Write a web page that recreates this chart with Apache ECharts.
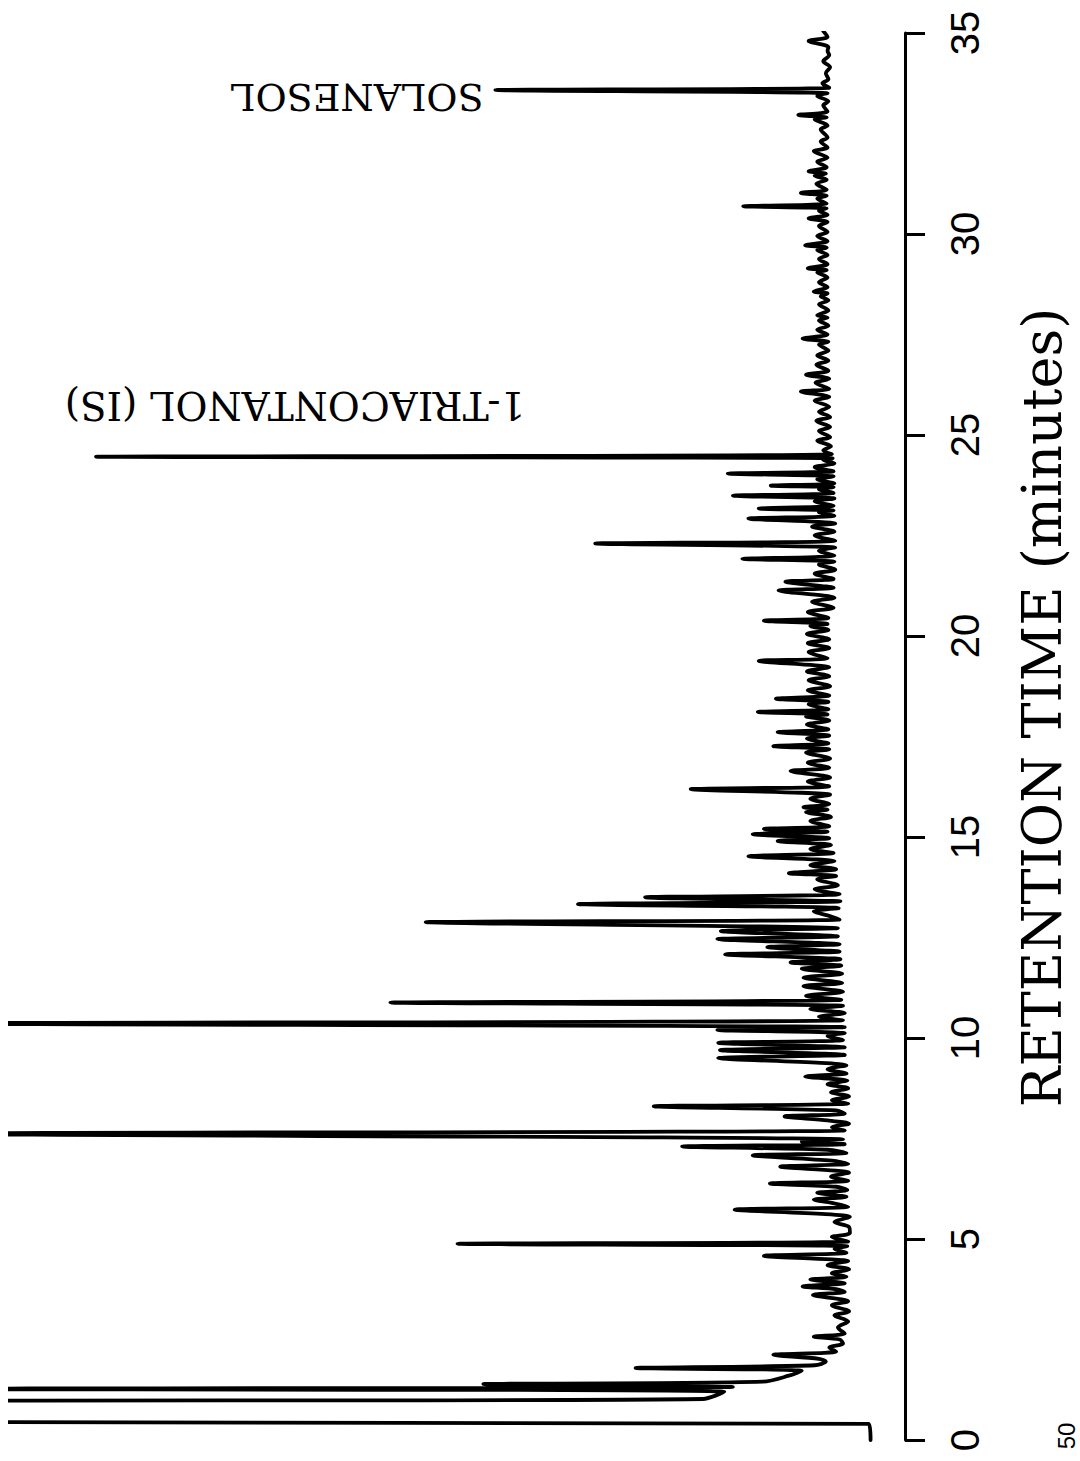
<!DOCTYPE html>
<html>
<head>
<meta charset="utf-8">
<script src="https://cdn.jsdelivr.net/npm/echarts@6/dist/echarts.min.js"></script>
<style>
  html, body { margin: 0; padding: 0; background: #fff; }
  #chart { width: 1080px; height: 1461px; }
</style>
</head>
<body>
<div id="chart"></div>
<script>
// Retention time (min) vs detector response (% of full scale)
const segSolventFront = [[0,0],[0.4,0.2],[0.45,110],[0.95,110],[1.02,19.5],[1.2,17],[1.27,110],[1.32,16],[1.39,45],[1.45,12.5],[1.6,9.5],[1.72,8],[1.79,27.3],[1.86,6.5],[1.95,5.2],[2.02,6],[2.12,11.3],[2.2,4],[2.3,4.8],[2.4,3.2],[2.5,3.6],[2.57,6.6],[2.65,3],[2.8,3.8],[2.95,2.6]];
const segEarly = [[3.1,4.2],[3.2,2.5],[3.35,4.5],[3.45,2.6],[3.61,6.7],[3.68,3],[3.75,4],[3.82,7.9],[3.9,3],[3.99,7.0],[4.06,2.8],[4.15,4.5],[4.25,2.5],[4.35,5],[4.45,2.6],[4.58,12.4],[4.66,2.8],[4.75,4.2],[4.82,2.7],[4.88,48],[4.94,2.6],[5.05,4.5],[5.15,2.4],[5.3,2.5],[5.42,4.2],[5.55,2.4],[5.73,15.8],[5.8,2.6],[5.9,4.5],[5.98,6.6],[6.05,2.8],[6.15,6.2],[6.22,2.7],[6.3,4],[6.38,11.7],[6.45,2.6],[6.55,4.6],[6.65,2.5],[6.8,10.5],[6.87,2.6],[6.95,4.5],[7.08,13.7],[7.14,2.8],[7.22,5],[7.3,21.9],[7.36,3],[7.42,8],[7.48,3.2],[7.62,110],[7.7,3],[7.78,4.5],[7.87,2.5],[7.95,5],[8.05,10],[8.12,3],[8.2,4],[8.3,25.2],[8.37,2.6],[8.45,4.5]];
const segMiddle = [[8.55,2.5],[8.65,4.6],[8.75,2.6],[8.85,5],[8.94,2.7],[9.04,7.6],[9.12,2.8],[9.22,5],[9.32,2.8],[9.5,17.7],[9.58,3],[9.7,17.5],[9.77,3],[9.88,17.7],[9.95,3.2],[10.05,5],[10.12,3],[10.2,17.8],[10.27,3],[10.36,110],[10.44,3.2],[10.53,6],[10.62,3],[10.72,7],[10.8,3.2],[10.88,55.8],[10.95,3.4],[11.05,7.5],[11.15,3.2],[11.29,7.8],[11.37,3.3],[11.5,7.8],[11.6,3.3],[11.72,8],[11.8,3.4],[11.88,9.3],[11.96,3.5],[12.08,16.9],[12.15,3.6],[12.26,12],[12.33,3.6],[12.46,17.8],[12.53,3.8],[12.66,17.4],[12.73,3.8],[12.88,51.7],[12.95,3.6],[13.05,5],[13.15,6.6],[13.23,3.7],[13.33,34],[13.4,3.5],[13.5,26.2],[13.58,3.6],[13.7,6.5],[13.8,3.8],[13.95,6.2],[14.03,4],[14.1,9.5],[14.2,4],[14.3,7],[14.4,4.2],[14.52,14.2],[14.6,4.3]];
const segLate = [[14.7,7],[14.8,4.6],[14.9,10.8],[14.97,4.8],[15.07,13.7],[15.13,5],[15.2,12.4],[15.27,4.8],[15.4,7],[15.5,4.6],[15.62,7.5],[15.68,5],[15.74,7.8],[15.82,4.8],[15.95,7],[16.05,4.7],[16.19,20.9],[16.26,4.8],[16.38,7.3],[16.48,4.7],[16.64,9.3],[16.72,4.8],[16.85,7.3],[16.95,4.7],[17.1,7.5],[17.18,4.8],[17.26,11.3],[17.33,4.9],[17.45,7.4],[17.52,4.8],[17.61,10.8],[17.68,4.9],[17.8,7.4],[17.9,4.8],[18.0,7.5],[18.05,5],[18.11,13.1],[18.18,4.9],[18.3,7.2],[18.36,4.9],[18.44,11],[18.52,4.8],[18.65,7.3],[18.75,4.7],[18.9,7.2],[19.0,4.8],[19.12,7.4],[19.22,4.8],[19.38,13],[19.45,5],[19.6,7.2],[19.7,4.8],[19.82,7.3],[19.92,4.8],[20.05,7.4],[20.15,4.9],[20.25,7],[20.3,5],[20.38,12.4],[20.45,4.9]];
const segIS = [[20.6,7.3],[20.7,4.3],[20.85,6.8],[20.95,4.2],[21.13,10.7],[21.2,4.3],[21.35,9.9],[21.42,4.3],[21.55,6.5],[21.65,4.1],[21.78,6],[21.85,4.2],[21.92,14.9],[22.0,4.2],[22.12,6],[22.2,4.1],[22.3,32],[22.37,4.1],[22.5,6.5],[22.6,4.2],[22.72,6.8],[22.8,4.1],[22.92,14.2],[22.99,4.2],[23.08,6],[23.12,4.3],[23.17,13],[23.24,4.3],[23.35,6.5],[23.42,4.2],[23.49,16],[23.56,4.3],[23.65,6],[23.7,4.3],[23.74,11.6],[23.8,4.2],[23.9,6.2],[23.97,4.3],[24.04,16.6],[24.1,4.3],[24.2,6.5],[24.3,4.2],[24.38,5.5],[24.42,4.4],[24.46,90],[24.52,4.5],[24.62,5.5],[24.72,4.6],[24.86,6.2],[24.95,4.7]];
const segTail = [[25.1,6],[25.2,4.7],[25.35,6.3],[25.45,4.7],[25.58,6],[25.7,4.8],[25.85,6.5],[25.95,4.8],[26.08,8.1],[26.15,4.8],[26.3,6.4],[26.4,4.8],[26.5,7.5],[26.6,4.9],[26.75,6.3],[26.85,4.9],[26.98,6.2],[27.1,4.9],[27.25,6],[27.32,4.9],[27.4,7.9],[27.5,5],[27.62,6.2],[27.72,4.9],[27.85,6],[27.92,5],[27.98,6.2],[28.1,4.9],[28.25,6],[28.35,4.9],[28.45,5.8],[28.52,5],[28.57,6.6],[28.68,5],[28.8,6],[28.92,5],[29.05,6.2],[29.1,5.1],[29.15,7.3],[29.25,5],[29.38,6],[29.48,5],[29.6,6.2],[29.66,5.1],[29.72,7.6],[29.82,5],[29.95,6.2],[30.05,5],[30.2,6],[30.3,5],[30.39,7.2],[30.48,5],[30.58,6],[30.64,5.1],[30.69,14.8],[30.76,5.1],[30.88,6.2],[30.95,5.1],[31.02,8.1],[31.1,5.1],[31.25,6.3],[31.35,5.1],[31.45,6.5],[31.5,5.2],[31.56,7.2],[31.66,5.1],[31.8,6.2],[31.9,5],[32.06,6.6],[32.15,5],[32.3,5.8],[32.4,5],[32.6,5.8],[32.7,5],[32.85,6.5],[32.9,5.1],[32.96,8.4],[33.05,5],[33.2,5.5],[33.3,4.9],[33.43,6.2],[33.5,5],[33.58,43.6],[33.64,4.8],[33.75,5.6],[33.85,4.9],[34.0,5.2],[34.15,4.7],[34.3,5.5],[34.45,4.8],[34.55,5],[34.65,4.9],[34.8,7.2],[34.9,5],[35.05,5.5]];

const timeTicks = [0, 5, 10, 15, 20, 25, 30, 35];
const peakLabels = ['SOLANESOL', '1-TRIACONTANOL (IS)'];
const axisTitle = 'RETENTION TIME (minutes)';
const pageNumber = '50';

const trace = [].concat(segSolventFront, segEarly, segMiddle, segLate, segIS, segTail)
  .map(p => [p[1], p[0]]); // [response, time] for the rotated layout

const chart = echarts.init(document.getElementById('chart'), null, { renderer: 'svg' });
chart.setOption({
  backgroundColor: '#ffffff',
  animation: false,
  grid: { left: 10, right: 175, top: 33, bottom: 21, outerBoundsMode: 'none', containLabel: false },
  xAxis: {
    type: 'value', min: -4, max: 100, inverse: true, show: false
  },
  yAxis: {
    type: 'value', min: 0, max: 35, interval: 5, position: 'right',
    axisLine: { show: true, onZero: false, lineStyle: { color: '#000', width: 3 } },
    axisTick: { show: true, length: 20, lineStyle: { color: '#000', width: 3 } },
    splitLine: { show: false },
    axisLabel: {
      rotate: 90, margin: 40, align: 'center', verticalAlign: 'top',
      color: '#000', fontSize: 40, fontFamily: 'Liberation Sans',
      formatter: v => timeTicks.includes(v) ? String(v) : ''
    },
    name: axisTitle, nameLocation: 'middle', nameRotate: 90, nameGap: 110,
    nameTextStyle: { color: '#000', fontSize: 54, fontFamily: 'DejaVu Serif', padding: [0, 0, 0, 58] }
  },
  series: [{
    type: 'line', data: trace, showSymbol: false, smooth: 0.3,
    clip: true,
    lineStyle: { color: '#000', width: 3.8, cap: 'round', join: 'round' }
  }],
  graphic: [
    { type: 'text', x: 357, y: 97, rotation: Math.PI,
      style: { text: peakLabels[0], font: '38px "DejaVu Serif"', fill: '#000', textAlign: 'center', textVerticalAlign: 'middle' } },
    { type: 'text', x: 295, y: 405, rotation: Math.PI,
      style: { text: peakLabels[1], font: '39px "DejaVu Serif"', fill: '#000', textAlign: 'center', textVerticalAlign: 'middle' } },
    { type: 'text', x: 1066, y: 1436, rotation: Math.PI / 2,
      style: { text: pageNumber, font: '24px "Liberation Sans"', fill: '#000', textAlign: 'center', textVerticalAlign: 'middle' } }
  ]
});
</script>
</body>
</html>
